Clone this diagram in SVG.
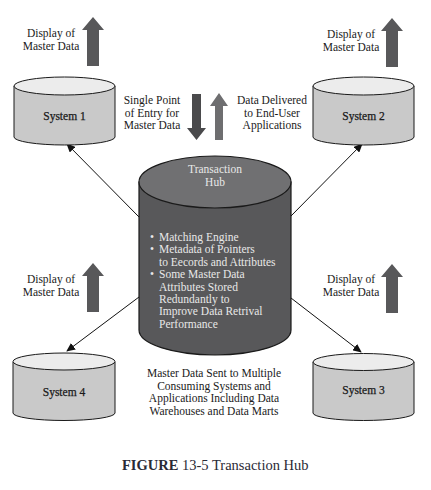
<svg xmlns="http://www.w3.org/2000/svg" width="431" height="490" viewBox="0 0 431 490">
<style>
.lbl{font-family:"Liberation Serif","Times New Roman",serif;font-size:11.5px;fill:#1a1a1a;text-anchor:middle}
.sys{font-family:"Liberation Serif","Times New Roman",serif;font-size:11.5px;fill:#1a1a1a;text-anchor:middle;stroke:#1a1a1a;stroke-width:0.25}
.hub{font-family:"Liberation Serif","Times New Roman",serif;font-size:11.5px;fill:#e8e8e8}
.body{fill:#c9c9c9;stroke:#1a1a1a;stroke-width:1}
.top{fill:#ececec;stroke:#1a1a1a;stroke-width:1}
.big{fill:#58585a}
.conn{stroke:#111;stroke-width:1;fill:none;marker-end:url(#ah)}
</style>
<defs>
<marker id="ah" markerWidth="9" markerHeight="8" refX="8" refY="4" orient="auto" markerUnits="userSpaceOnUse">
<path d="M0,0 L9,4 L0,8 Z" fill="#111"/>
</marker>
<path id="up" d="M0,0 L11,13 L6,13 L6,49 L-6,49 L-6,13 L-11,13 Z"/>
</defs>
<rect width="431" height="490" fill="#fff"/>

<g id="connectors">
<line class="conn" x1="139" y1="217" x2="67" y2="144"/>
<line class="conn" x1="291" y1="216" x2="362" y2="144"/>
<line class="conn" x1="139" y1="297" x2="67" y2="351"/>
<line class="conn" x1="291" y1="298" x2="361" y2="352"/>
</g>

<g id="display1">
<use href="#up" class="big" transform="translate(93,17)"/>
<text class="lbl" x="51" y="37">Display of</text>
<text class="lbl" x="51" y="50">Master Data</text>
</g>
<g id="display2">
<use href="#up" class="big" transform="translate(392,18)"/>
<text class="lbl" x="351" y="38">Display of</text>
<text class="lbl" x="351" y="51">Master Data</text>
</g>
<g id="display4">
<use href="#up" class="big" transform="translate(93,263)"/>
<text class="lbl" x="51" y="283">Display of</text>
<text class="lbl" x="51" y="296">Master Data</text>
</g>
<g id="display3">
<use href="#up" class="big" transform="translate(392,264)"/>
<text class="lbl" x="351" y="283">Display of</text>
<text class="lbl" x="351" y="296">Master Data</text>
</g>

<g id="entry">
<path d="M192,94 L201,94 L201,128 L206,128 L196.5,140 L187,128 L192,128 Z" fill="#4a4a4c"/>
<text class="lbl" x="152" y="104">Single Point</text>
<text class="lbl" x="152" y="116.5">of Entry for</text>
<text class="lbl" x="152" y="129">Master Data</text>
</g>
<g id="delivered">
<path d="M219,93 L228,106 L223,106 L223,140 L215,140 L215,106 L210,106 Z" fill="#6e6e70"/>
<text class="lbl" x="272" y="104">Data Delivered</text>
<text class="lbl" x="272" y="116.5">to End-User</text>
<text class="lbl" x="272" y="129">Applications</text>
</g>

<g id="system1">
<path class="body" d="M14,86 L14,137 A50.5,8 0 0 0 115,137 L115,86 Z"/>
<ellipse class="top" cx="64.5" cy="86" rx="50.5" ry="9"/>
<text class="sys" x="64.5" y="120">System 1</text>
</g>
<g id="system2">
<path class="body" d="M313,86 L313,137 A50.5,8 0 0 0 414,137 L414,86 Z"/>
<ellipse class="top" cx="363.5" cy="86" rx="50.5" ry="9"/>
<text class="sys" x="363.5" y="120">System 2</text>
</g>
<g id="system4">
<path class="body" d="M13,362 L13,413 A51,7.5 0 0 0 115,413 L115,362 Z"/>
<ellipse class="top" cx="64" cy="361.5" rx="51" ry="8.5"/>
<text class="sys" x="64" y="396">System 4</text>
</g>
<g id="system3">
<path class="body" d="M313,362 L313,413 A50.5,7.5 0 0 0 414,413 L414,362 Z"/>
<ellipse class="top" cx="363.5" cy="362" rx="50.5" ry="8.5"/>
<text class="sys" x="363.5" y="394">System 3</text>
</g>

<g id="hub">
<path d="M139,182 L139,330 A76,25 0 0 0 291,330 L291,182 Z" fill="#58585a" stroke="#1a1a1a" stroke-width="1.2"/>
<ellipse cx="215" cy="182" rx="76" ry="26" fill="#707072" stroke="#1a1a1a" stroke-width="1.2"/>
<text class="hub" x="215" y="173" text-anchor="middle">Transaction</text>
<text class="hub" x="215" y="186" text-anchor="middle">Hub</text>
<text class="hub" x="150" y="241">•</text>
<text class="hub" x="159" y="241">Matching Engine</text>
<text class="hub" x="150" y="253.4">•</text>
<text class="hub" x="159" y="253.4">Metadata of Pointers</text>
<text class="hub" x="159" y="265.8">to Eecords and Attributes</text>
<text class="hub" x="150" y="278.2">•</text>
<text class="hub" x="159" y="278.2">Some Master Data</text>
<text class="hub" x="159" y="290.6">Attributes Stored</text>
<text class="hub" x="159" y="303">Redundantly to</text>
<text class="hub" x="159" y="315.4">Improve Data Retrival</text>
<text class="hub" x="159" y="327.8">Performance</text>
</g>

<g id="sent">
<text class="lbl" x="214" y="377">Master Data Sent to Multiple</text>
<text class="lbl" x="214" y="389.5">Consuming Systems and</text>
<text class="lbl" x="214" y="402">Applications Including Data</text>
<text class="lbl" x="214" y="414.5">Warehouses and Data Marts</text>
</g>

<text x="122" y="470" font-family="Liberation Serif,'Times New Roman',serif" font-size="14.5" fill="#2a2a36"><tspan font-weight="bold">FIGURE</tspan> 13-5 Transaction Hub</text>
</svg>
